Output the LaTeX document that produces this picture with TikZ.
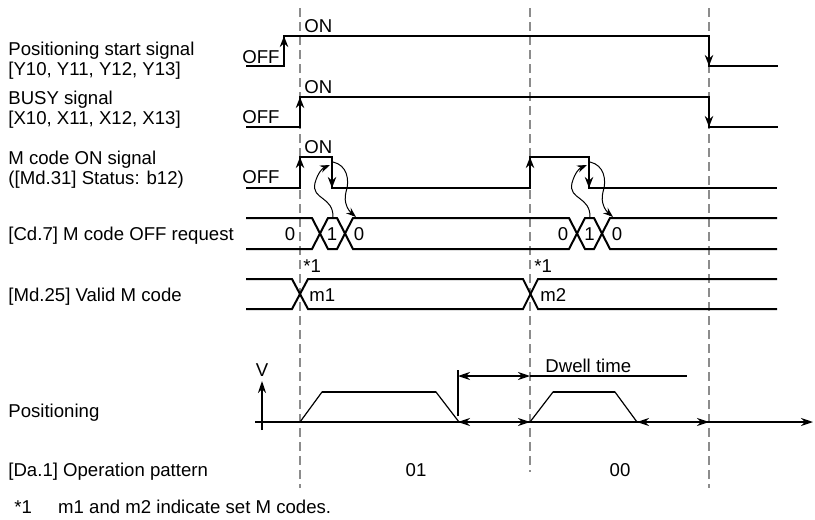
\documentclass[tikz,border=0pt]{standalone}
\usepackage{fontspec}
\setmainfont{Liberation Sans}
\usetikzlibrary{positioning,arrows.meta}
\tikzset{
  lbl/.style={anchor=base west,inner sep=0pt},
  val/.style={anchor=base,inner sep=0pt},
  sig/.style={line width=1.3pt,line join=miter},
  bus/.style={line width=1pt,line join=miter},
  rise/.style={line width=1.3pt,-{Stealth[length=5.5pt,width=4.2pt]}},
  tline/.style={draw=black!45,line width=0.8pt,dash pattern=on 4.5pt off 2.5pt},
  fine/.style={line width=0.6pt},
  dimarr/.style={fine,{Stealth[length=6pt,width=4pt]}-{Stealth[length=6pt,width=4pt]}},
  axarr/.style={fine,-{Stealth[length=6pt,width=4pt]}},
  cue/.style={line width=0.5pt,-{Stealth[length=5pt,width=3.6pt]}},
}
\begin{document}
\begin{tikzpicture}[x=0.5pt,y=-0.5pt,font=\fontsize{9.3}{10}\selectfont]
  \useasboundingbox (0,0) rectangle (815,520);
  \draw[tline] (300,8) -- (300,488);
  \draw[tline] (530,8) -- (530,472);
  \draw[tline] (709,8) -- (709,488);

  \node[lbl] (lstart) at (8,55) {Positioning start signal};
  \node[lbl] (lstartb) at ([yshift=-10pt]lstart.base west) {[Y10, Y11, Y12, Y13]};
  \node[lbl] (lbusy) at (8,104) {BUSY signal};
  \node[lbl] (lbusyb) at ([yshift=-10pt]lbusy.base west) {[X10, X11, X12, X13]};
  \node[lbl] (lmcode) at (8,164) {M code ON signal};
  \node[lbl] (lmcodeb) at ([yshift=-10pt]lmcode.base west) {([Md.31] Status: b12)};
  \node[lbl] (lcdoff) at (8,240) {[Cd.7] M code OFF request};
  \node[lbl] (lvalid) at (8,301) {[Md.25] Valid M code};
  \node[lbl] (lpos) at (8,417) {Positioning};
  \node[lbl] (lpattern) at (8,476) {[Da.1] Operation pattern};
  \node[lbl] (note) at (14,513) {*1};
  \node[lbl,base right=12.7pt of note] (notetxt) {m1 and m2 indicate set M codes.};

  \draw[sig] (246,66) -- (284,66) -- (284,36) -- (709,36) -- (709,66) -- (778,66);
  \draw[rise] (284,66) -- (284,36);
  \draw[rise] (709,36) -- (709,66);
  \node[lbl] (off1) at (242,63) {OFF};
  \node[lbl] (on1) at (304,32) {ON};

  \draw[sig] (246,127) -- (300,127) -- (300,97) -- (709,97) -- (709,127) -- (778,127);
  \draw[rise] (300,127) -- (300,97);
  \draw[rise] (709,97) -- (709,127);
  \node[lbl] (off2) at (242,123) {OFF};
  \node[lbl] (on2) at (304,93) {ON};

  \draw[sig] (246,188) -- (300,188) -- (300,157) -- (332,157) -- (332,188) -- (530,188)
    -- (530,157) -- (589,157) -- (589,188) -- (777,188);
  \draw[rise] (300,188) -- (300,157);
  \draw[rise] (332,157) -- (332,188);
  \draw[rise] (530,188) -- (530,157);
  \draw[rise] (589,157) -- (589,188);
  \node[lbl] (off3) at (242,183) {OFF};
  \node[lbl] (on3) at (304,153) {ON};

  \draw[bus] (246,218) -- (312,218) -- (328,249) -- (337,249) -- (353,218) -- (569,218)
    -- (585,249) -- (594,249) -- (610,218) -- (777,218);
  \draw[bus] (246,249) -- (312,249) -- (328,218) -- (337,218) -- (353,249) -- (569,249)
    -- (585,218) -- (594,218) -- (610,249) -- (777,249);
  \node[val] (c0a) at (290,240) {0};
  \node[val] (c1a) at (332,240) {1};
  \node[val] (c0b) at (359,240) {0};
  \node[val] (c0c) at (563,240) {0};
  \node[val] (c1b) at (589.5,240) {1};
  \node[val] (c0d) at (617,240) {0};

  \draw[cue] (333,218) .. controls (334,196) and (311,200) .. (315,183)
    .. controls (318,172) and (323,168) .. (330,165);
  \draw[cue] (333,162) .. controls (347,165) and (350,180) .. (346,192)
    .. controls (343,203) and (349,211) .. (356,217);
  \draw[cue] (590,218) .. controls (591,196) and (568,200) .. (572,183)
    .. controls (575,172) and (580,168) .. (587,165);
  \draw[cue] (590,162) .. controls (604,165) and (607,180) .. (603,192)
    .. controls (600,203) and (606,211) .. (613,217);

  \node[lbl] (star1) at (303,272) {*1};
  \node[lbl] (star2) at (534,272) {*1};
  \draw[bus] (246,279) -- (292,279) -- (308,309) -- (523,309) -- (538,279) -- (777,279);
  \draw[bus] (246,309) -- (292,309) -- (308,279) -- (523,279) -- (538,309) -- (777,309);
  \node[lbl] (m1) at (309,301) {m1};
  \node[lbl] (m2) at (540,301) {m2};

  \draw[axarr] (255,422) -- (813,422);
  \draw[axarr] (262,430) -- (262,381);
  \node[val] (vlab) at (262,376) {V};
  \draw[fine] (300,422) -- (322,392) -- (436,392) -- (459,422);
  \draw[sig,line width=1.1pt] (322,392) -- (436,392);
  \draw[fine] (530,422) -- (553,392) -- (615,392) -- (637,422);
  \draw[sig,line width=1.1pt] (553,392) -- (615,392);
  \draw[fine] (458,416) -- (458,370);
  \draw[dimarr] (458,376) -- (530,376);
  \draw[fine] (530,376) -- (687,376);
  \node[lbl] (dwell) at (545,372) {Dwell time};
  \draw[dimarr] (458,422) -- (530,422);
  \draw[dimarr] (637,422) -- (709,422);
  \node[val] (pat1) at (416,476) {01};
  \node[val] (pat2) at (620,476) {00};
\end{tikzpicture}
\end{document}
